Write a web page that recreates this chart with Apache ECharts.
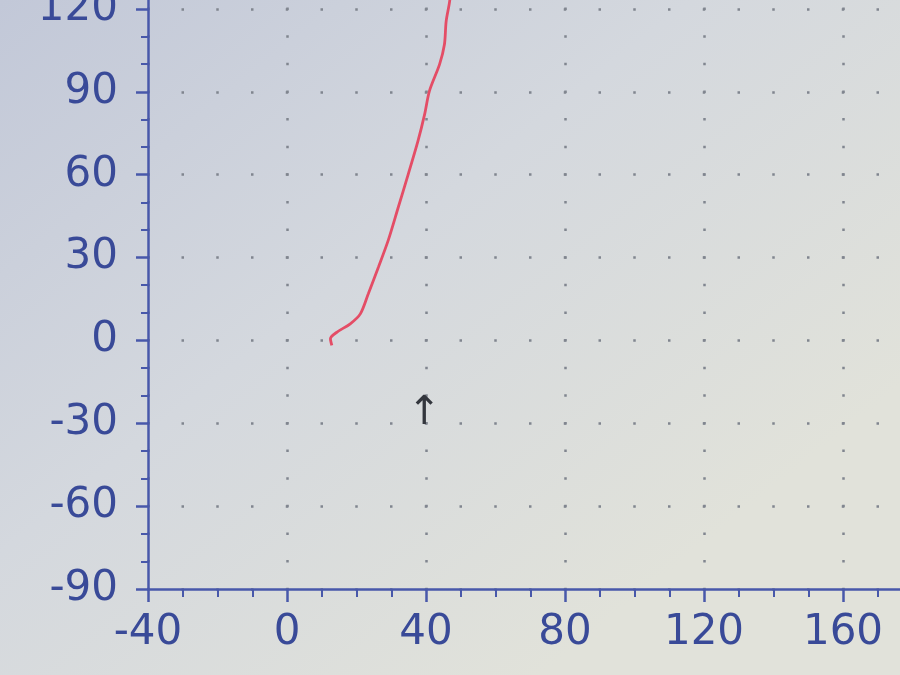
<!DOCTYPE html>
<html>
<head>
<meta charset="utf-8">
<script src="https://cdn.jsdelivr.net/npm/echarts@6/dist/echarts.min.js"></script>
<style>
html,body{margin:0;padding:0;}
#chart{width:900px;height:675px;}
</style>
</head>
<body>
<div id="chart"></div>
<script>
// Trace (x, y)
const traceX = [12.9, 12.5, 14.4, 18.2, 21.1, 23.4, 26.3, 29.1, 32.0, 34.9, 37.7, 39.6, 41.0, 43.9, 45.3, 45.8, 46.8, 47.5];
const traceY = [-1.8, 0.6, 3.0, 6.0, 9.6, 16.9, 26.5, 36.1, 48.1, 60.2, 72.2, 81.8, 90.3, 99.9, 107.1, 115.5, 122.7, 132];
// Arrow marker
const arrowPos = [39.5, -26.5];
const arrowText = '↑';
// Axes
const xMin = -40, xMax = 200, xStep = 40;
const yMin = -90, yMax = 150, yStep = 30;

const chart = echarts.init(document.getElementById('chart'));
const axisBlue = '#4858aa';
const labelBlue = '#394a98';
const dotColor = '#80858f';

const pxPerX = 3.475, pxPerY = 2.762;

chart.setOption({
  backgroundColor: {
    type: 'linear', x: 0, y: 0, x2: 0.6, y2: 1,
    colorStops: [
      {offset: 0, color: '#c2c8d8'},
      {offset: 0.5, color: '#d4d8de'},
      {offset: 1, color: '#e1e2da'}
    ]
  },
  animation: false,
  grid: {
    left: 148,
    top: -74,
    right: -82,
    bottom: 86,
    containLabel: false,
    outerBoundsMode: 'none'
  },
  xAxis: {
    type: 'value',
    min: xMin, max: xMax, interval: xStep,
    axisLine: {show: true, onZero: false, lineStyle: {color: axisBlue, width: 2.5}},
    axisTick: {show: true, inside: false, length: 13, lineStyle: {color: axisBlue, width: 2.5}},
    minorTick: {show: true, splitNumber: 4, length: 8, lineStyle: {color: axisBlue, width: 2}},
    axisLabel: {
      color: labelBlue, fontFamily: 'DejaVu Sans', fontSize: 42, margin: 23,
      showMaxLabel: false
    },
    splitLine: {
      show: true,
      lineStyle: {color: dotColor, width: 2.5, type: [2.5, pxPerY * 10 - 2.5], dashOffset: 1.25}
    },
    minorSplitLine: {show: false}
  },
  yAxis: {
    type: 'value',
    min: yMin, max: yMax, interval: yStep,
    axisLine: {show: true, onZero: false, lineStyle: {color: axisBlue, width: 2.5}},
    axisTick: {show: true, inside: false, length: 12, lineStyle: {color: axisBlue, width: 2.5}},
    minorTick: {show: true, splitNumber: 3, length: 7, lineStyle: {color: axisBlue, width: 2}},
    axisLabel: {
      color: labelBlue, fontFamily: 'DejaVu Sans', fontSize: 42, margin: 30
    },
    splitLine: {
      show: true,
      lineStyle: {color: dotColor, width: 2.5, type: [2.5, pxPerX * 10 - 2.5], dashOffset: 1.25}
    },
    minorSplitLine: {show: false}
  },
  series: [
    {
      type: 'line',
      data: traceX.map((x, i) => [x, traceY[i]]),
      showSymbol: false,
      smooth: 0.3,
      lineStyle: {color: '#e44d66', width: 2.8},
      markPoint: {
        symbol: 'circle',
        symbolSize: 0,
        data: [{coord: arrowPos, value: arrowText}],
        label: {
          show: true,
          position: 'inside',
          formatter: arrowText,
          color: '#33363d',
          fontFamily: 'DejaVu Sans',
          fontSize: 40
        }
      }
    }
  ]
});
</script>
</body>
</html>
